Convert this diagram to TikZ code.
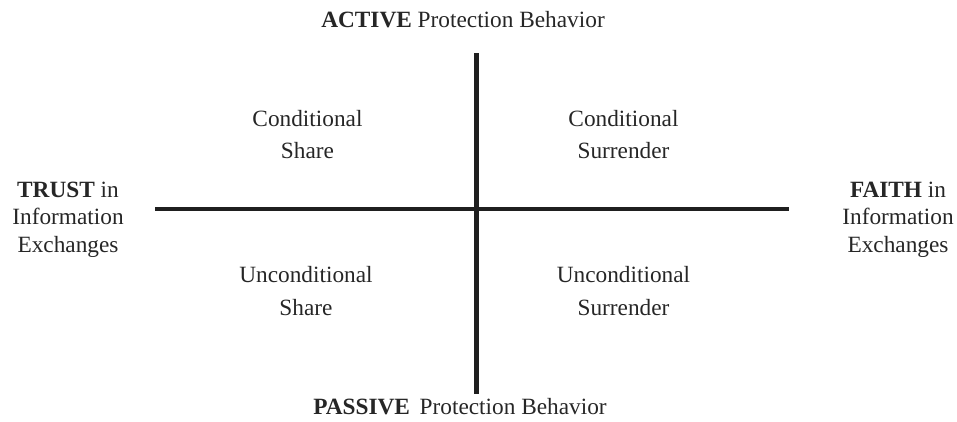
\documentclass[tikz,border=0pt]{standalone}
\usepackage{fontspec}
\setmainfont{Liberation Serif}
\usetikzlibrary{positioning}

\begin{document}
\begin{tikzpicture}[x=1pt,y=-1pt,
  axis/.style={line width=4.5pt, color=black!88},
  quad/.style={anchor=base, align=center, inner sep=0pt, text=black!85, font=\fontsize{23.3}{32.5}\selectfont},
  side/.style={quad, font=\fontsize{23.3}{27.5}\selectfont}]
\useasboundingbox (0,0) rectangle (957,421);
% axes
\coordinate (top) at (476.5,53);
\coordinate (bot) at (476.5,394);
\coordinate (lft) at (155,209);
\coordinate (rgt) at (789,209);
\draw[axis] (top) -- (bot);
\draw[axis] (lft) -- (rgt);
% axis labels (base = last line)
\node[quad] (active)  at (463,27)  {\textbf{ACTIVE} Protection Behavior};
\node[quad] (passive) at (460,414) {\textbf{PASSIVE}\, Protection Behavior};
\node[side] (trust)   at (68,252)  {\textbf{TRUST} in\\Information\\Exchanges};
\node[side] (faith)   at (898,252) {\textbf{FAITH} in\\Information\\Exchanges};
% quadrants
\node[quad] (cshare) at (307.5,158.5) {Conditional\\Share};
\node[quad] (csurr)  at (623.5,158.5) {Conditional\\Surrender};
\node[quad] (ushare) at (306,315)     {Unconditional\\Share};
\node[quad] (usurr)  at (623.5,315)   {Unconditional\\Surrender};
\end{tikzpicture}
\end{document}
